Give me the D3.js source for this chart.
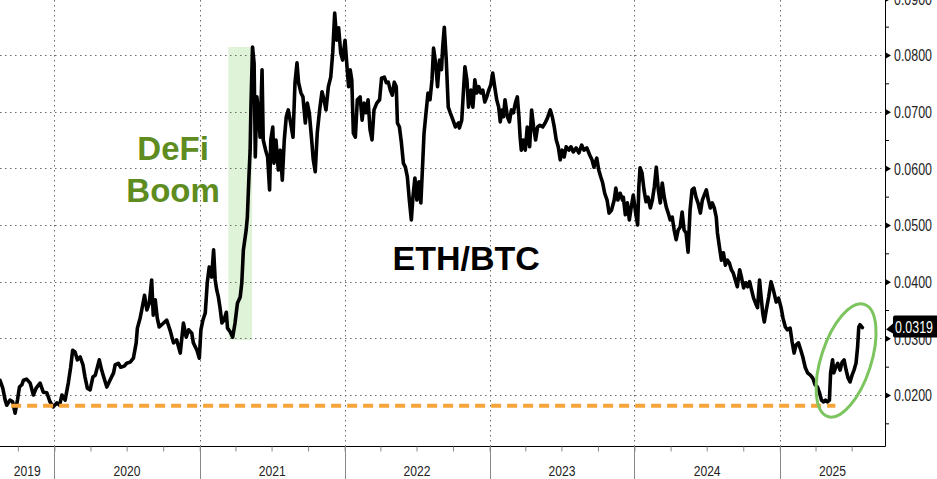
<!DOCTYPE html>
<html>
<head>
<meta charset="utf-8">
<script src="https://cdn.jsdelivr.net/npm/d3@7"></script>
<style>
  html, body { margin: 0; padding: 0; background: #ffffff; }
  svg { display: block; }
</style>
</head>
<body>
<svg id="chart" width="937" height="479"></svg>
<script>
// ---------------- DATA ----------------
const seriesName = "ETH/BTC";

const dates = [
  "2019-08-17","2019-08-24","2019-08-30","2019-09-03","2019-09-11","2019-09-18","2019-09-24","2019-09-30","2019-10-05","2019-10-11","2019-10-15","2019-10-23","2019-11-01","2019-11-09","2019-11-16","2019-11-26","2019-12-04","2019-12-13","2019-12-21","2019-12-29",
  "2020-01-07","2020-01-14","2020-01-20","2020-01-28","2020-02-05","2020-02-11","2020-02-16","2020-02-22","2020-02-28","2020-03-06","2020-03-13","2020-03-18","2020-03-24","2020-03-31","2020-04-07","2020-04-13","2020-04-23","2020-04-29","2020-05-05","2020-05-12","2020-05-20","2020-05-29","2020-06-02","2020-06-10","2020-06-16","2020-06-25","2020-07-01","2020-07-10","2020-07-18","2020-07-25","2020-07-28","2020-08-04","2020-08-08","2020-08-15","2020-08-21","2020-08-27","2020-09-02","2020-09-06","2020-09-11","2020-09-16","2020-09-21","2020-10-02","2020-10-10","2020-10-18","2020-10-27","2020-11-04","2020-11-13","2020-11-21","2020-11-28","2020-12-04","2020-12-12","2020-12-16","2020-12-25","2020-12-31",
  "2021-01-04","2021-01-09","2021-01-15","2021-01-20","2021-01-25","2021-01-31","2021-02-05","2021-02-09","2021-02-13","2021-02-17","2021-02-21","2021-02-26","2021-03-03","2021-03-09","2021-03-12","2021-03-19","2021-03-25","2021-03-31","2021-04-06","2021-04-13","2021-04-17","2021-04-21","2021-04-28","2021-05-01","2021-05-05","2021-05-08","2021-05-10","2021-05-14","2021-05-18","2021-05-21","2021-05-25","2021-05-30","2021-06-02","2021-06-07","2021-06-10","2021-06-16","2021-06-21","2021-06-26","2021-06-29","2021-07-04","2021-07-07","2021-07-12","2021-07-18","2021-07-23","2021-07-28","2021-08-02","2021-08-07","2021-08-12","2021-08-18","2021-08-24","2021-08-29","2021-09-03","2021-09-07","2021-09-13","2021-09-18","2021-09-24","2021-09-29","2021-10-04","2021-10-10","2021-10-14","2021-10-19","2021-10-24","2021-10-30","2021-11-05","2021-11-10","2021-11-15","2021-11-21","2021-11-27","2021-12-02","2021-12-07","2021-12-12","2021-12-17","2021-12-22","2021-12-27",
  "2022-01-02","2022-01-07","2022-01-11","2022-01-15","2022-01-19","2022-01-23","2022-01-28","2022-02-02","2022-02-09","2022-02-14","2022-02-19","2022-02-24","2022-03-01","2022-03-06","2022-03-11","2022-03-16","2022-03-23","2022-03-30","2022-04-04","2022-04-11","2022-04-16","2022-04-21","2022-04-26","2022-05-01","2022-05-06","2022-05-11","2022-05-14","2022-05-19","2022-05-24","2022-05-29","2022-06-03","2022-06-08","2022-06-13","2022-06-18","2022-06-22","2022-06-27","2022-07-02","2022-07-07","2022-07-12","2022-07-17","2022-07-20","2022-07-25","2022-07-30","2022-08-04","2022-08-09","2022-08-13","2022-08-18","2022-08-23","2022-08-28","2022-09-02","2022-09-05","2022-09-09","2022-09-14","2022-09-19","2022-09-24","2022-10-01","2022-10-07","2022-10-15","2022-10-17","2022-10-23","2022-10-27","2022-10-31","2022-11-05","2022-11-09","2022-11-15","2022-11-20","2022-11-25","2022-11-30","2022-12-05","2022-12-10","2022-12-15","2022-12-20","2022-12-25","2022-12-30",
  "2023-01-04","2023-01-09","2023-01-14","2023-01-19","2023-01-24","2023-01-28","2023-02-01","2023-02-05","2023-02-09","2023-02-15","2023-02-20","2023-02-25","2023-03-02","2023-03-07","2023-03-12","2023-03-16","2023-03-19","2023-03-22","2023-03-27","2023-04-01","2023-04-06","2023-04-12","2023-04-17","2023-04-22","2023-04-27","2023-05-02","2023-05-08","2023-05-15","2023-05-21","2023-05-27","2023-06-03","2023-06-08","2023-06-13","2023-06-18","2023-06-23","2023-06-28","2023-07-03","2023-07-08","2023-07-13","2023-07-20","2023-07-25","2023-07-31","2023-08-07","2023-08-14","2023-08-21","2023-08-27","2023-09-03","2023-09-10","2023-09-16","2023-09-21","2023-09-28","2023-10-03","2023-10-08","2023-10-13","2023-10-18","2023-10-24","2023-10-29","2023-11-04","2023-11-11","2023-11-15","2023-11-20","2023-11-26","2023-12-02","2023-12-04","2023-12-09","2023-12-14","2023-12-19","2023-12-24","2023-12-29",
  "2024-01-04","2024-01-09","2024-01-12","2024-01-15","2024-01-20","2024-01-25","2024-01-30","2024-02-04","2024-02-10","2024-02-15","2024-02-20","2024-02-25","2024-03-01","2024-03-06","2024-03-11","2024-03-16","2024-03-21","2024-03-26","2024-03-31","2024-04-05","2024-04-10","2024-04-15","2024-04-20","2024-04-25","2024-04-30","2024-05-05","2024-05-10","2024-05-15","2024-05-20","2024-05-25","2024-05-30","2024-06-04","2024-06-09","2024-06-15","2024-06-20","2024-06-25","2024-06-30","2024-07-05","2024-07-10","2024-07-15","2024-07-20","2024-07-25","2024-07-28","2024-08-02","2024-08-07","2024-08-12","2024-08-17","2024-08-22","2024-08-27","2024-09-01","2024-09-06","2024-09-11","2024-09-16","2024-09-22","2024-09-27","2024-10-02","2024-10-07","2024-10-12","2024-10-17","2024-10-22","2024-10-27","2024-11-01","2024-11-06","2024-11-11","2024-11-14","2024-11-19","2024-11-23","2024-11-28","2024-12-04","2024-12-10","2024-12-16","2024-12-23","2024-12-29",
  "2025-01-04","2025-01-09","2025-01-15","2025-01-20","2025-01-27","2025-02-01","2025-02-06","2025-02-11","2025-02-17","2025-02-23","2025-02-28","2025-03-06","2025-03-12","2025-03-19","2025-03-25","2025-03-31","2025-04-06","2025-04-11","2025-04-16","2025-04-21","2025-04-26","2025-05-01","2025-05-06","2025-05-09","2025-05-14","2025-05-17","2025-05-22","2025-05-27","2025-06-02","2025-06-07","2025-06-12","2025-06-17","2025-06-22","2025-06-27","2025-07-02","2025-07-07","2025-07-12","2025-07-16","2025-07-19","2025-07-22","2025-07-28"
];

const values = [
  0.0226,0.0212,0.0191,0.0182,0.0191,0.0188,0.0168,0.0191,0.0214,0.0218,0.0226,0.0228,0.0221,0.0200,0.0212,0.0221,0.0205,0.0204,0.0188,0.0179,
  0.0186,0.0182,0.0200,0.0191,0.0221,0.0249,0.0279,0.0276,0.0262,0.0267,0.0253,0.0232,0.0212,0.0209,0.0232,0.0235,0.0262,0.0244,0.0230,0.0214,0.0226,0.0239,0.0253,0.0256,0.0249,0.0251,0.0256,0.0258,0.0265,0.0292,0.0318,0.0336,0.0350,0.0376,0.0350,0.0362,0.0403,0.0341,0.0368,0.0336,0.0320,0.0327,0.0332,0.0315,0.0292,0.0297,0.0274,0.0327,0.0302,0.0315,0.0309,0.0292,0.0279,0.0265,
  0.0315,0.0332,0.0345,0.0398,0.0426,0.0408,0.0456,0.0403,0.0385,0.0373,0.0355,0.0327,0.0332,0.0346,0.0318,0.0311,0.0302,0.0327,0.0362,0.0373,0.0398,0.0456,0.0491,0.0514,0.0585,0.0632,0.0708,0.0814,0.0786,0.0620,0.0726,0.0691,0.0655,0.0774,0.0650,0.0632,0.0620,0.0562,0.0650,0.0673,0.0609,0.0650,0.0597,0.0632,0.0579,0.0650,0.0691,0.0703,0.0680,0.0655,0.0751,0.0786,0.0751,0.0733,0.0726,0.0680,0.0715,0.0698,0.0650,0.0615,0.0594,0.0662,0.0703,0.0735,0.0721,0.0703,0.0744,0.0761,0.0804,0.0874,0.0826,0.0848,0.0804,0.0791,
  0.0826,0.0779,0.0744,0.0774,0.0756,0.0662,0.0655,0.0721,0.0726,0.0685,0.0715,0.0698,0.0721,0.0668,0.0650,0.0703,0.0715,0.0721,0.0759,0.0761,0.0751,0.0752,0.0738,0.0729,0.0752,0.0744,0.0680,0.0673,0.0645,0.0609,0.0602,0.0585,0.0544,0.0509,0.0549,0.0583,0.0544,0.0576,0.0539,0.0615,0.0662,0.0698,0.0733,0.0721,0.0756,0.0812,0.0786,0.0744,0.0791,0.0774,0.0814,0.0849,0.0791,0.0708,0.0698,0.0685,0.0673,0.0680,0.0671,0.0685,0.0733,0.0779,0.0756,0.0708,0.0738,0.0708,0.0756,0.0733,0.0744,0.0733,0.0738,0.0717,0.0726,0.0738,
  0.0747,0.0768,0.0744,0.0721,0.0708,0.0682,0.0703,0.0691,0.0721,0.0691,0.0682,0.0703,0.0698,0.0715,0.0726,0.0691,0.0655,0.0632,0.0650,0.0632,0.0673,0.0638,0.0703,0.0673,0.0650,0.0673,0.0676,0.0673,0.0680,0.0689,0.0703,0.0691,0.0673,0.0650,0.0638,0.0615,0.0632,0.0620,0.0638,0.0632,0.0638,0.0629,0.0636,0.0627,0.0641,0.0632,0.0636,0.0624,0.0615,0.0602,0.0618,0.0597,0.0585,0.0574,0.0556,0.0544,0.0521,0.0526,0.0544,0.0565,0.0544,0.0556,0.0544,0.0549,0.0518,0.0539,0.0509,0.0532,0.0553,
  0.0521,0.0500,0.0567,0.0601,0.0592,0.0562,0.0541,0.0549,0.0530,0.0544,0.0567,0.0602,0.0562,0.0539,0.0574,0.0549,0.0532,0.0521,0.0509,0.0514,0.0491,0.0474,0.0491,0.0496,0.0523,0.0491,0.0486,0.0452,0.0526,0.0562,0.0565,0.0549,0.0539,0.0521,0.0544,0.0553,0.0562,0.0544,0.0530,0.0539,0.0530,0.0514,0.0486,0.0461,0.0438,0.0451,0.0429,0.0438,0.0433,0.0421,0.0415,0.0403,0.0391,0.0421,0.0406,0.0389,0.0398,0.0391,0.0400,0.0385,0.0371,0.0362,0.0354,0.0403,0.0380,0.0345,0.0329,0.0350,0.0373,0.0400,0.0385,0.0364,0.0371,
  0.0355,0.0336,0.0320,0.0315,0.0318,0.0294,0.0274,0.0288,0.0292,0.0279,0.0267,0.0249,0.0239,0.0235,0.0230,0.0218,0.0214,0.0204,0.0191,0.0188,0.0191,0.0188,0.0191,0.0239,0.0262,0.0239,0.0249,0.0256,0.0244,0.0258,0.0262,0.0244,0.0230,0.0223,0.0235,0.0244,0.0256,0.0285,0.0320,0.0324,0.0319
];

// axis definitions
const xDomain = ["2019-08-17", "2025-09-23"];
const yDomain = [0.0110, 0.0897];
const yMajorTicks = [0.02, 0.03, 0.04, 0.05, 0.06, 0.07, 0.08, 0.09];
const yMinorTicks = [0.015, 0.025, 0.035, 0.045, 0.055, 0.065, 0.075, 0.085];
const yearLabels = ["2019", "2020", "2021", "2022", "2023", "2024", "2025"];

// annotations
const defiBand = { start: "2021-03-14", end: "2021-05-13", low: 0.0297, high: 0.0814 };
const defiLabel = ["DeFi", "Boom"];
const defiLabelPos = { date: "2020-10-26", values: [0.0615, 0.0541] };
const titlePos = { date: "2022-11-03", value: 0.0421 };
const supportLine = { value: 0.0181, start: "2019-09-14", end: "2025-05-21" };
const highlight = { date: "2025-06-17", value: 0.0261 };
const lastValueLabel = "0.0319";

// ---------------- CHART ----------------
const W = 937, H = 479;
const plotRight = 885, plotBottom = 446;
const parse = d3.utcParse("%Y-%m-%d");

const n = Math.min(dates.length, values.length);
const series = d3.range(n).map(i => ({ date: parse(dates[i]), value: values[i] }));

const x = d3.scaleUtc().domain(xDomain.map(parse)).range([0, plotRight]);
const y = d3.scaleLinear().domain(yDomain).range([plotBottom, 0]);

const svg = d3.select("#chart");
const defs = svg.append("defs");
defs.append("clipPath").attr("id", "plotClip")
  .append("rect").attr("x", 0).attr("y", 0).attr("width", plotRight).attr("height", plotBottom);

// squeeze a text element horizontally to a target width (condensed look)
function condense(sel, targetWidth, tx, ty) {
  sel.each(function () {
    const len = this.getComputedTextLength();
    const s = len > 0 ? Math.min(1, targetWidth / len) : 1;
    d3.select(this).attr("transform", `translate(${tx},${ty}) scale(${s},1)`);
  });
}

// DeFi band
svg.append("rect")
  .attr("x", x(parse(defiBand.start)))
  .attr("y", y(defiBand.high))
  .attr("width", x(parse(defiBand.end)) - x(parse(defiBand.start)))
  .attr("height", y(defiBand.low) - y(defiBand.high))
  .attr("fill", "#dff3d8");

// grid
const grid = svg.append("g").attr("stroke", "#6a6a6a").attr("stroke-width", 1).attr("stroke-dasharray", "1.5,3.5");
grid.selectAll("line.h").data(yMajorTicks.filter(v => y(v) > 2 && y(v) < plotBottom)).join("line")
  .attr("class", "h")
  .attr("x1", 0).attr("x2", plotRight)
  .attr("y1", d => Math.round(y(d)) + 0.5).attr("y2", d => Math.round(y(d)) + 0.5);
const yearStarts = yearLabels.map(yr => parse(yr + "-01-01")).filter(d => x(d) > 0 && x(d) < plotRight);
grid.selectAll("line.v").data(yearStarts).join("line")
  .attr("class", "v")
  .attr("y1", 0).attr("y2", plotBottom)
  .attr("x1", d => Math.round(x(d)) + 0.5).attr("x2", d => Math.round(x(d)) + 0.5);

// line
const line = d3.line().x(d => x(d.date)).y(d => y(d.value)).curve(d3.curveLinear);
svg.append("path")
  .datum(series)
  .attr("clip-path", "url(#plotClip)")
  .attr("fill", "none")
  .attr("stroke", "#000")
  .attr("stroke-width", 3.6)
  .attr("stroke-linejoin", "round")
  .attr("stroke-linecap", "round")
  .attr("d", line);

// support dashed line
svg.append("line")
  .attr("x1", x(parse(supportLine.start))).attr("x2", x(parse(supportLine.end)))
  .attr("y1", y(supportLine.value)).attr("y2", y(supportLine.value))
  .attr("stroke", "#f5a53a").attr("stroke-width", 4)
  .attr("stroke-dasharray", "10,6");

// highlight ellipse
const hx = x(parse(highlight.date)), hy = y(highlight.value);
svg.append("ellipse")
  .attr("cx", hx).attr("cy", hy)
  .attr("rx", 59).attr("ry", 25)
  .attr("transform", `rotate(-72 ${hx} ${hy})`)
  .attr("fill", "none").attr("stroke", "#7cc45e").attr("stroke-width", 3);

// annotation texts
const defiText = svg.append("text")
  .attr("font-family", "'Liberation Sans', Arial, sans-serif")
  .attr("font-weight", "bold").attr("font-size", 33)
  .attr("fill", "#5e8c1f").attr("text-anchor", "middle");
defiLabel.forEach((t, i) => {
  defiText.append("tspan")
    .attr("x", x(parse(defiLabelPos.date)))
    .attr("y", y(defiLabelPos.values[i]))
    .text(t);
});

svg.append("text")
  .attr("x", x(parse(titlePos.date))).attr("y", y(titlePos.value))
  .attr("font-family", "'Liberation Sans', Arial, sans-serif")
  .attr("font-weight", "bold").attr("font-size", 34)
  .attr("fill", "#000").attr("text-anchor", "middle")
  .text(seriesName);

// ---------------- AXES ----------------
const axisFont = "'Liberation Sans', Arial, sans-serif";

// right axis labels
const yAxis = d3.axisRight(y).tickValues(yMajorTicks).tickSize(0).tickPadding(0).tickFormat(d3.format(".4f"));
const yAxisG = svg.append("g").attr("transform", `translate(${plotRight},0)`).call(yAxis);
yAxisG.select(".domain").remove();
yAxisG.selectAll("text")
  .attr("x", 0).attr("dy", "0.36em")
  .attr("font-family", axisFont).attr("font-size", 16).attr("fill", "#222");
condense(yAxisG.selectAll("text"), 38, 9, 0);
yAxisG.selectAll(".tick").append("path")
  .attr("d", "M0,-3.5L6,0L0,3.5Z").attr("fill", "#000");

// minor ticks right
const yMinor = d3.axisRight(y).tickValues(yMinorTicks).tickSize(4).tickFormat("");
const yMinorG = svg.append("g").attr("transform", `translate(${plotRight},0)`).call(yMinor);
yMinorG.select(".domain").remove();
yMinorG.selectAll("line").attr("stroke", "#000");

// axis lines
svg.append("line").attr("x1", plotRight + 0.5).attr("x2", plotRight + 0.5).attr("y1", 0).attr("y2", plotBottom + 0.5)
  .attr("stroke", "#000").attr("stroke-width", 1);
svg.append("line").attr("x1", 0).attr("x2", plotRight + 0.5).attr("y1", plotBottom + 0.5).attr("y2", plotBottom + 0.5)
  .attr("stroke", "#000").attr("stroke-width", 1);

// bottom axis quarterly ticks
const xAxis = d3.axisBottom(x).ticks(d3.utcMonth.every(3)).tickSize(5).tickFormat("");
const xAxisG = svg.append("g").attr("transform", `translate(0,${plotBottom + 0.5})`).call(xAxis);
xAxisG.select(".domain").remove();
xAxisG.selectAll("line").attr("stroke", "#888");

// year separators
svg.append("g").selectAll("line").data(yearStarts).join("line")
  .attr("x1", d => Math.round(x(d)) + 0.5).attr("x2", d => Math.round(x(d)) + 0.5)
  .attr("y1", plotBottom).attr("y2", H)
  .attr("stroke", "#888").attr("stroke-width", 1);

// year labels centered in the visible span of each year
const yearG = svg.append("g");
yearLabels.forEach(yr => {
  const a = Math.max(0, x(parse(yr + "-01-01")));
  const b = Math.min(plotRight, x(parse((+yr + 1) + "-01-01")));
  const t = yearG.append("text")
    .attr("x", 0).attr("y", 0)
    .attr("text-anchor", "middle")
    .attr("font-family", axisFont).attr("font-size", 14).attr("fill", "#222")
    .text(yr);
  condense(t, 27, (a + b) / 2, 476);
});

// last value tag
const last = series[series.length - 1];
const ly = y(last.value);
const tag = svg.append("g").attr("transform", `translate(${plotRight},${ly})`);
tag.append("path")
  .attr("d", "M1,2 L8,-4 L8,-10 Q8,-12 10,-12 L60,-12 L60,10 L10,10 Q8,10 8,8 L8,6 Z")
  .attr("fill", "#000");
const tagText = tag.append("text")
  .attr("x", 0).attr("y", 0)
  .attr("font-family", axisFont).attr("font-size", 16).attr("fill", "#fff")
  .text(lastValueLabel);
condense(tagText, 38, 10, 5);
</script>
</body>
</html>
